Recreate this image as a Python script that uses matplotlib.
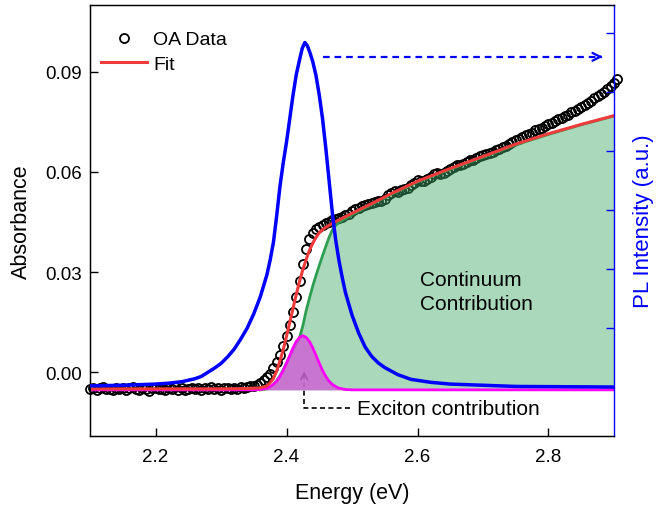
import matplotlib
matplotlib.use("Agg")
import matplotlib.pyplot as plt

plt.rcParams['font.family'] = ['Liberation Sans', 'DejaVu Sans']

# --- OA absorbance data (eV, absorbance) ---
oa_energy = [
    2.100, 2.105, 2.110, 2.115, 2.120, 2.125, 2.130, 2.135, 2.140, 2.145,
    2.150, 2.155, 2.160, 2.165, 2.170, 2.175, 2.180, 2.185, 2.190, 2.195,
    2.200, 2.205, 2.210, 2.215, 2.220, 2.225, 2.230, 2.235, 2.240, 2.245,
    2.250, 2.255, 2.260, 2.265, 2.270, 2.275, 2.280, 2.285, 2.290, 2.295,
    2.300, 2.305, 2.310, 2.315, 2.320, 2.325, 2.330, 2.335, 2.340, 2.345,
    2.350, 2.355, 2.360, 2.365, 2.370, 2.375, 2.380, 2.385, 2.390, 2.395,
    2.400, 2.405, 2.410, 2.415, 2.420, 2.425, 2.430, 2.435, 2.440, 2.445,
    2.450, 2.455, 2.460, 2.465, 2.470, 2.475, 2.480, 2.485, 2.490, 2.495,
    2.500, 2.505, 2.510, 2.515, 2.520, 2.525, 2.530, 2.535, 2.540, 2.545,
    2.550, 2.555, 2.560, 2.565, 2.570, 2.575, 2.580, 2.585, 2.590, 2.595,
    2.600, 2.605, 2.610, 2.615, 2.620, 2.625, 2.630, 2.635, 2.640, 2.645,
    2.650, 2.655, 2.660, 2.665, 2.670, 2.675, 2.680, 2.685, 2.690, 2.695,
    2.700, 2.705, 2.710, 2.715, 2.720, 2.725, 2.730, 2.735, 2.740, 2.745,
    2.750, 2.755, 2.760, 2.765, 2.770, 2.775, 2.780, 2.785, 2.790, 2.795,
    2.800, 2.805, 2.810, 2.815, 2.820, 2.825, 2.830, 2.835, 2.840, 2.845,
    2.850, 2.855, 2.860, 2.865, 2.870, 2.875, 2.880, 2.885, 2.890, 2.895,
    2.900, 2.905,
]
oa_abs = [
    -0.0050, -0.0046, -0.0052, -0.0047, -0.0044, -0.0050, -0.0048, -0.0053, -0.0045, -0.0049,
    -0.0046, -0.0051, -0.0047, -0.0044, -0.0049, -0.0052, -0.0046, -0.0048, -0.0054, -0.0047,
    -0.0045, -0.0050, -0.0048, -0.0052, -0.0046, -0.0049, -0.0044, -0.0051, -0.0047, -0.0053,
    -0.0048, -0.0045, -0.0050, -0.0046, -0.0052, -0.0047, -0.0049, -0.0044, -0.0050, -0.0046,
    -0.0051, -0.0047, -0.0045, -0.0050, -0.0046, -0.0049, -0.0043, -0.0047, -0.0044, -0.0040,
    -0.0041, -0.0036, -0.0031, -0.0024, -0.0015, -0.0004, 0.0012, 0.0030, 0.0052, 0.0078,
    0.0108, 0.0142, 0.0182, 0.0226, 0.0275, 0.0325, 0.0368, 0.0398, 0.0417, 0.0428,
    0.0436, 0.0441, 0.0446, 0.0450, 0.0455, 0.0458, 0.0463, 0.0466, 0.0471, 0.0474,
    0.0482, 0.0488, 0.0491, 0.0497, 0.0500, 0.0503, 0.0507, 0.0509, 0.0512, 0.0514,
    0.0520, 0.0531, 0.0538, 0.0543, 0.0540, 0.0545, 0.0548, 0.0553, 0.0560, 0.0568,
    0.0575, 0.0572, 0.0574, 0.0578, 0.0586, 0.0594, 0.0597, 0.0595, 0.0598, 0.0603,
    0.0608, 0.0615, 0.0621, 0.0619, 0.0622, 0.0630, 0.0636, 0.0634, 0.0640, 0.0646,
    0.0649, 0.0652, 0.0657, 0.0660, 0.0664, 0.0669, 0.0674, 0.0678, 0.0683, 0.0689,
    0.0694, 0.0697, 0.0703, 0.0709, 0.0713, 0.0717, 0.0724, 0.0727, 0.0732, 0.0738,
    0.0742, 0.0746, 0.0751, 0.0757, 0.0762, 0.0766, 0.0771, 0.0778, 0.0783, 0.0788,
    0.0795, 0.0800, 0.0807, 0.0813, 0.0820, 0.0826, 0.0833, 0.0840, 0.0848, 0.0856,
    0.0866, 0.0878,
]

# --- total fit ---
fit_energy = [2.10, 2.20, 2.30, 2.34, 2.36, 2.37, 2.375, 2.38, 2.385, 2.39, 2.395,
              2.40, 2.405, 2.41, 2.415, 2.42, 2.425, 2.43, 2.435, 2.44, 2.445,
              2.45, 2.455, 2.46, 2.465, 2.47, 2.48, 2.50, 2.53, 2.56, 2.60,
              2.65, 2.70, 2.75, 2.80, 2.85, 2.90]
fit_abs = [-0.0049, -0.0049, -0.0049, -0.0048, -0.0046, -0.0040, -0.0031, -0.0018, 0.0005, 0.0035, 0.0068,
           0.0108, 0.0150, 0.0192, 0.0234, 0.0273, 0.0308, 0.0338, 0.0365, 0.0386, 0.0404,
           0.0418, 0.0427, 0.0434, 0.0440, 0.0446, 0.0456, 0.0476, 0.0505, 0.0535, 0.0572,
           0.0610, 0.0646, 0.0683, 0.0714, 0.0742, 0.0768]

# --- continuum contribution ---
cont_energy = [2.36, 2.37, 2.375, 2.38, 2.385, 2.39, 2.395, 2.40, 2.405, 2.41, 2.415,
               2.42, 2.425, 2.43, 2.435, 2.44, 2.445, 2.45, 2.455, 2.46, 2.465,
               2.47, 2.475, 2.48, 2.49, 2.50, 2.53, 2.56, 2.60, 2.65, 2.70,
               2.75, 2.80, 2.85, 2.90]
cont_abs = [-0.0052, -0.0049, -0.0044, -0.0036, -0.0024, -0.0010, 0.0008, 0.0028, 0.0048, 0.0066, 0.0085,
            0.0105, 0.0140, 0.0185, 0.0222, 0.0258, 0.0290, 0.0320, 0.0349, 0.0377, 0.0404,
            0.0426, 0.0440, 0.0449, 0.0460, 0.0472, 0.0503, 0.0533, 0.0570, 0.0608, 0.0644,
            0.0681, 0.0712, 0.0741, 0.0767]

# --- exciton contribution ---
exc_energy = [2.10, 2.35, 2.36, 2.365, 2.37, 2.375, 2.38, 2.385, 2.39, 2.395, 2.40,
              2.405, 2.41, 2.415, 2.42, 2.425, 2.43, 2.435, 2.44, 2.445, 2.45,
              2.455, 2.46, 2.465, 2.47, 2.475, 2.48, 2.485, 2.49, 2.50, 2.90]
exc_abs = [-0.0052, -0.0052, -0.0051, -0.0049, -0.0047, -0.0042, -0.0036, -0.0026, -0.0012, 0.0006, 0.0028,
           0.0051, 0.0074, 0.0093, 0.0105, 0.0110, 0.0105, 0.0093, 0.0074, 0.0051, 0.0028,
           0.0006, -0.0012, -0.0026, -0.0036, -0.0042, -0.0047, -0.0049, -0.0051, -0.0052, -0.0052]
floor_abs = -0.0052

# --- PL spectrum (a.u.) ---
pl_energy = [2.10, 2.15, 2.20, 2.22, 2.24, 2.26, 2.27, 2.28, 2.29, 2.30,
             2.31, 2.32, 2.33, 2.34, 2.35, 2.36, 2.37, 2.375, 2.38, 2.385,
             2.39, 2.395, 2.40, 2.405, 2.41, 2.415, 2.42, 2.424, 2.428, 2.432,
             2.436, 2.44, 2.445, 2.45, 2.455, 2.46, 2.465, 2.47, 2.475, 2.48,
             2.485, 2.49, 2.50, 2.51, 2.52, 2.53, 2.54, 2.55, 2.57, 2.59,
             2.62, 2.65, 2.70, 2.75, 2.90]
pl_int = [0.02, 0.03, 0.05, 0.065, 0.09, 0.14, 0.18, 0.25, 0.32, 0.40,
          0.51, 0.64, 0.81, 1.00, 1.24, 1.53, 1.90, 2.15, 2.45, 2.90,
          3.40, 3.80, 4.15, 4.55, 4.95, 5.30, 5.55, 5.74, 5.84, 5.78,
          5.66, 5.52, 5.28, 4.95, 4.55, 4.05, 3.50, 2.95, 2.50, 2.15,
          1.86, 1.60, 1.22, 0.92, 0.68, 0.52, 0.41, 0.33, 0.21, 0.13,
          0.08, 0.05, 0.03, 0.01, 0.00]

fig = plt.figure(figsize=(6.69, 5.06), dpi=100)
ax = fig.add_axes([90 / 669, 1 - 437 / 506, 524 / 669, 431 / 506])

ax.plot(oa_energy, oa_abs, 'o', mfc='none', mec='black', ms=6.5, mew=1.3,
        label='OA Data', zorder=2, clip_on=False)
ax.fill_between(cont_energy, cont_abs, floor_abs, color='#40aa6a', alpha=0.45,
                lw=0, zorder=3)
ax.plot(cont_energy, cont_abs, color='#2e9e50', lw=2, zorder=3.5)
ax.fill_between(exc_energy, exc_abs, floor_abs, color='#cd64d2', alpha=0.85,
                lw=0, zorder=4)
ax.plot(exc_energy, exc_abs, color='#ff00ff', lw=2, zorder=4.5)
ax.plot(fit_energy, fit_abs, color='#ee3b3b', lw=2.2, label='Fit', zorder=5)

ax.set_xlim(2.1, 2.9)
ax.set_ylim(-0.019, 0.1099)
ax.set_xticks([2.2, 2.4, 2.6, 2.8])
ax.set_yticks([0.0, 0.03, 0.06, 0.09])
ax.set_yticklabels(['0.00', '0.03', '0.06', '0.09'])
ax.tick_params(direction='in', length=5.5, width=1, labelsize=13.5, pad=6)
ax.tick_params(axis='x', pad=9)
ax.spines['right'].set_visible(False)
for s in ['left', 'top', 'bottom']:
    ax.spines[s].set_linewidth(1.0)
ax.set_xlabel('Energy (eV)', fontsize=15.5, labelpad=12)
ax.set_ylabel('Absorbance', fontsize=15.5, labelpad=9)

leg = ax.legend(loc='upper left', bbox_to_anchor=(0.021, 0.94), frameon=False,
                fontsize=14, handlelength=2.37, handletextpad=0.3,
                labelspacing=0.35, borderpad=0, borderaxespad=0)

# annotations
ax.plot([2.456, 2.882], [0.0944, 0.0944], color='blue', lw=1.6, ls=(0, (3, 2.2)))
ax.annotate('', xy=(2.887, 0.0944), xytext=(2.875, 0.0944),
            arrowprops=dict(arrowstyle='->', color='blue', lw=1.6,
                            mutation_scale=14))
ax.plot([2.427, 2.427, 2.502], [-0.0005, -0.0107, -0.0107], color='black',
        lw=1.2, ls=(0, (3, 2)))
ax.annotate('', xy=(2.427, 0.0012), xytext=(2.427, -0.002),
            arrowprops=dict(arrowstyle='->', color='black', lw=1.2,
                            mutation_scale=12))
ax.text(2.508, -0.0107, 'Exciton contribution', fontsize=15, va='center', ha='left')
ax.text(2.604, 0.0242, 'Continuum\nContribution', fontsize=15, va='center',
        ha='left', linespacing=1.35, zorder=6)

# PL on twin axis
ax2 = ax.twinx()
ax2.plot(pl_energy, pl_int, color='blue', lw=2.5, zorder=6)
ax2.set_ylim(-0.83, 6.475)
ax2.set_yticks([0, 1, 2, 3, 4, 5, 6])
ax2.tick_params(axis='y', direction='in', length=5.5, width=1, colors='blue',
                labelright=False)
ax2.spines['right'].set_color('blue')
ax2.spines['right'].set_linewidth(1.0)
ax2.set_ylabel('PL Intensity (a.u.)', color='blue', fontsize=16, labelpad=14)

fig.savefig('out.png', dpi=100)
